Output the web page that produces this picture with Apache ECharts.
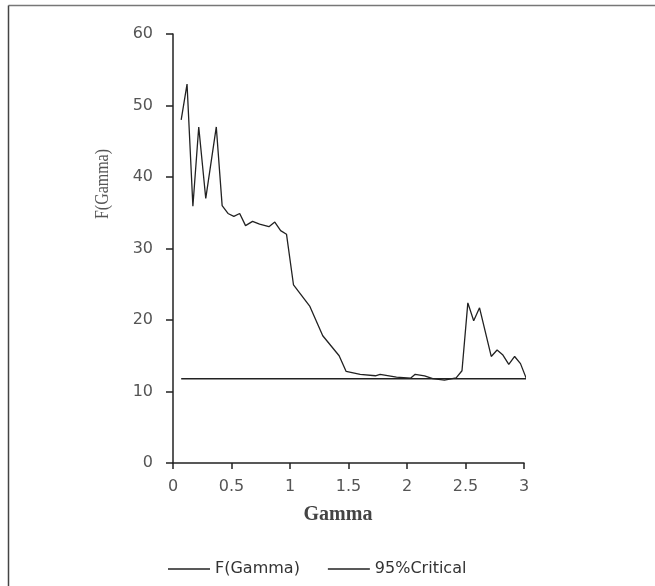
<!DOCTYPE html>
<html>
<head>
<meta charset="utf-8">
<script src="https://cdn.jsdelivr.net/npm/echarts@6/dist/echarts.min.js"></script>
<style>
  html, body { margin: 0; padding: 0; background: #fff; }
  #chart { width: 655px; height: 586px; }
</style>
</head>
<body>
<div id="chart"></div>
<script>
// values
var gamma = [0.07, 0.12, 0.17, 0.22, 0.28, 0.37, 0.42, 0.47, 0.52, 0.57, 0.62, 0.68, 0.74, 0.82, 0.87, 0.92, 0.97,
             1.03, 1.10, 1.17, 1.28, 1.42, 1.48, 1.60, 1.73, 1.77, 1.91, 2.03, 2.07, 2.15, 2.22, 2.32, 2.42, 2.47,
             2.52, 2.57, 2.62, 2.72, 2.77, 2.82, 2.87, 2.92, 2.97, 3.02];
var fGamma = [48.0, 53.0, 35.9, 47.0, 37.0, 47.0, 36.0, 34.9, 34.5, 34.9, 33.2, 33.8, 33.4, 33.05, 33.7, 32.5, 32.0,
              24.9, 23.4, 21.9, 17.8, 15.0, 12.8, 12.4, 12.2, 12.4, 12.0, 11.85, 12.4, 12.2, 11.8, 11.6, 11.9, 12.9,
              22.4, 19.9, 21.7, 14.9, 15.8, 15.1, 13.8, 14.9, 13.9, 11.8];
var criticalX = [0.07, 3.02];
var criticalVal = 11.8;
var xTicks = [0, 0.5, 1, 1.5, 2, 2.5, 3];

var chart = echarts.init(document.getElementById('chart'));

var fData = gamma.map(function (g, i) { return [g, fGamma[i]]; });
var critData = criticalX.map(function (g) { return [g, criticalVal]; });

var axisText = { color: '#555', fontFamily: 'DejaVu Sans', fontSize: 16 };

var option = {
    backgroundColor: '#fff',
    animation: false,
    grid: { left: 173, right: 131, top: 34, bottom: 123 },
    legend: {
        left: 163,
        top: 556,
        icon: 'rect',
        itemWidth: 42,
        itemHeight: 1.5,
        itemGap: 28,
        textStyle: { color: '#333', fontFamily: 'DejaVu Sans', fontSize: 16 },
        data: ['F(Gamma)', '95%Critical']
    },
    xAxis: {
        type: 'value',
        min: 0,
        max: 3,
        interval: 0.5,
        splitLine: { show: false },
        axisLine: { onZero: false, lineStyle: { color: '#222', width: 1.5 } },
        axisTick: { show: true, inside: false, length: 6, lineStyle: { color: '#222', width: 1.5 } },
        axisLabel: Object.assign({
            margin: 16,
            formatter: function (v) { return xTicks.indexOf(v) >= 0 ? String(v) : ''; }
        }, axisText)
    },
    yAxis: {
        type: 'value',
        min: 0,
        max: 60,
        interval: 10,
        splitLine: { show: false },
        axisLine: { show: true, lineStyle: { color: '#222', width: 1.5 } },
        axisTick: { show: true, inside: false, length: 7, lineStyle: { color: '#222', width: 1.5 } },
        axisLabel: Object.assign({ margin: 20 }, axisText)
    },
    series: [{
        name: 'F(Gamma)',
        type: 'line',
        data: fData,
        symbol: 'none',
        lineStyle: { color: '#222', width: 1.3 },
        itemStyle: { color: '#222' }
    }, {
        name: '95%Critical',
        type: 'line',
        data: critData,
        symbol: 'none',
        lineStyle: { color: '#222', width: 1.5 },
        itemStyle: { color: '#222' }
    }],
    graphic: [{
        type: 'line',
        shape: { x1: 8.5, y1: 5.5, x2: 655, y2: 5.5 },
        style: { stroke: '#777', lineWidth: 1.5 }
    }, {
        type: 'line',
        shape: { x1: 8.5, y1: 5.5, x2: 8.5, y2: 586 },
        style: { stroke: '#444', lineWidth: 1.5 }
    }, {
        // y title is drawn condensed in the source image
        type: 'text',
        x: 103,
        y: 184,
        rotation: Math.PI / 2,
        scaleX: 0.84,
        style: {
            text: 'F(Gamma)',
            fill: '#555',
            font: '19px "Liberation Serif"',
            textAlign: 'center',
            textVerticalAlign: 'middle'
        }
    }, {
        type: 'text',
        x: 338,
        y: 515,
        style: {
            text: 'Gamma',
            fill: '#444',
            font: 'bold 20px "Liberation Serif"',
            textAlign: 'center',
            textVerticalAlign: 'middle'
        }
    }]
};

chart.setOption(option);
</script>
</body>
</html>
